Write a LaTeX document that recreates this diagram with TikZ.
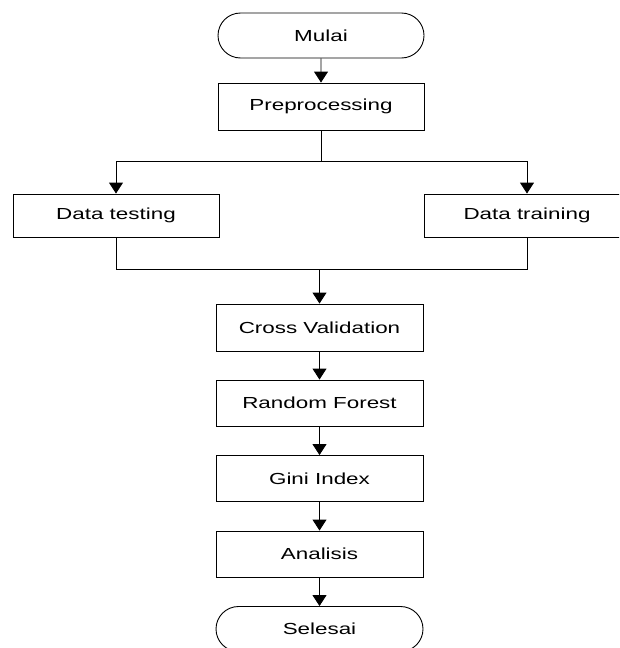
\documentclass[tikz,border=0pt]{standalone}
\usepackage{fontspec}
\setmainfont[FakeStretch=1.4]{Liberation Sans}
\usetikzlibrary{arrows.meta,shapes.misc}
\begin{document}
\begin{tikzpicture}[x=1pt,y=-1pt,
  line width=0.9pt,
  txt/.style={font=\fontsize{16}{19}\selectfont, inner sep=0pt, align=center},
  procbox/.style={txt, draw, rectangle, minimum width=206pt, minimum height=46pt},
  term/.style={txt, draw, rounded rectangle, minimum width=206pt, minimum height=45pt},
  arr/.style={-{Triangle[length=11pt,width=14pt]}}]
\useasboundingbox (0,0) rectangle (619,648);
\clip (0,0) rectangle (619,648);
\fill[white] (0,0) rectangle (619,648);

\node[term] (mulai) at (321,35.5) {Mulai};
\node[procbox, minimum height=47pt] (pre) at (321,106.5) {Preprocessing};
\node[procbox, minimum height=43pt] (test) at (116,215.5) {Data testing};
\node[procbox, minimum height=43pt] (train) at (527,215.5) {Data training};
\node[procbox, minimum width=207pt, minimum height=47pt] (cv) at (319.5,327.5) {Cross Validation};
\node[procbox, minimum width=207pt] (rf) at (319.5,403) {Random Forest};
\node[procbox, minimum width=207pt] (gini) at (319.5,478.5) {Gini Index};
\node[procbox, minimum width=207pt] (ana) at (319.5,554) {Analisis};
\node[term, minimum width=207pt] (sel) at (319.5,629) {Selesai};

\coordinate (j1) at (321,161);
\coordinate (j2) at (319.5,269);

\draw[arr] (mulai) -- (pre);
\draw (pre.south) -- (j1);
\draw[arr] (j1) -| (test.north);
\draw[arr] (j1) -| (train.north);
\draw (test.south) |- (j2);
\draw (train.south) |- (j2);
\draw[arr] (j2) -- (cv.north);
\draw[arr] (cv) -- (rf);
\draw[arr] (rf) -- (gini);
\draw[arr] (gini) -- (ana);
\draw[arr] (ana) -- (sel);
\end{tikzpicture}
\end{document}
